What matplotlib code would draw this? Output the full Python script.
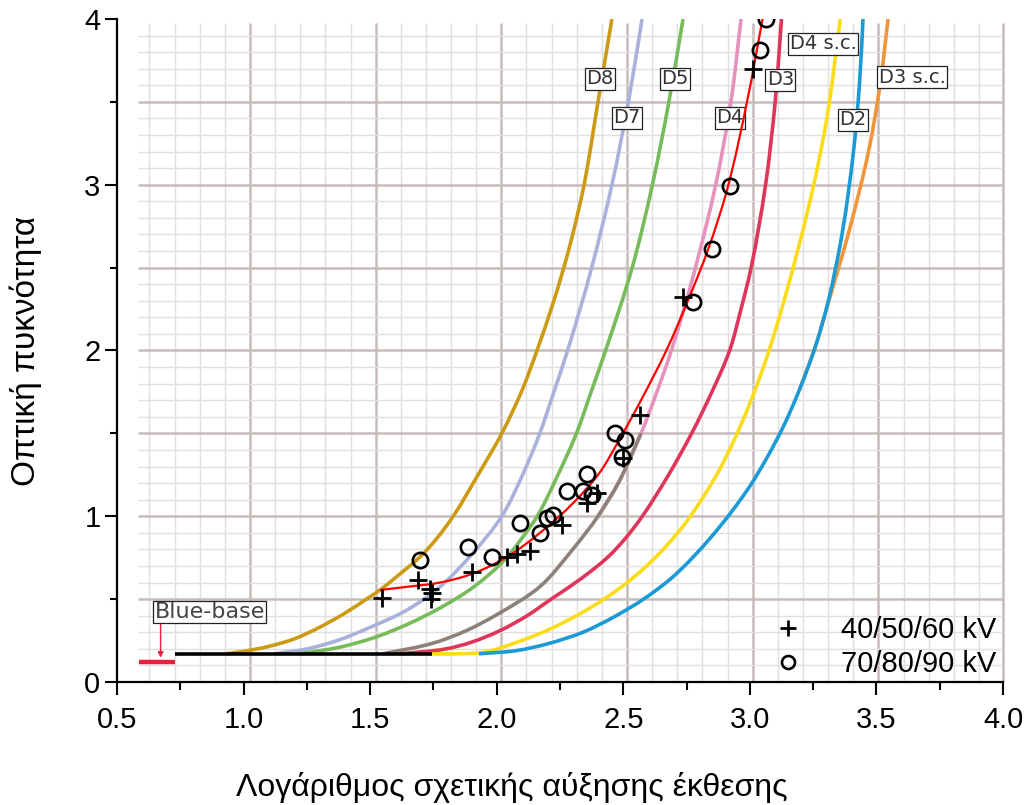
import matplotlib
matplotlib.use("Agg")
import matplotlib.pyplot as plt
from matplotlib.path import Path
from matplotlib.patches import PathPatch
import numpy as np

plt.rcParams['font.family'] = ['Liberation Sans', 'DejaVu Sans']

# characteristic curves (log relative exposure, optical density)
d8_x = [0.93, 1.0, 1.1, 1.2, 1.3, 1.4, 1.49, 1.539, 1.6, 1.697, 1.76, 1.828, 1.93, 2.02, 2.10, 2.159, 2.215, 2.265, 2.30, 2.345, 2.40, 2.455]
d8_y = [0.17, 0.185, 0.215, 0.26, 0.33, 0.415, 0.505, 0.555, 0.63, 0.755, 0.86, 1.0, 1.26, 1.5, 1.76, 2.0, 2.25, 2.5, 2.7, 3.0, 3.5, 4.0]

d7_x = [1.12, 1.25, 1.37, 1.50, 1.646, 1.776, 1.907, 2.02, 2.105, 2.17, 2.228, 2.28, 2.375, 2.455, 2.52, 2.574]
d7_y = [0.17, 0.20, 0.25, 0.33, 0.435, 0.575, 0.78, 1.0, 1.26, 1.5, 1.76, 2.0, 2.5, 3.0, 3.5, 4.0]

d5_x = [1.22, 1.38, 1.52, 1.65, 1.78, 1.91, 2.03, 2.115, 2.16, 2.245, 2.315, 2.375, 2.43, 2.535, 2.615, 2.68, 2.736]
d5_y = [0.17, 0.21, 0.27, 0.35, 0.45, 0.575, 0.735, 0.9, 1.0, 1.26, 1.5, 1.76, 2.0, 2.5, 3.0, 3.5, 4.0]

grey_x = [1.55, 1.75, 1.88, 2.01, 2.17, 2.30, 2.40, 2.48, 2.57]
grey_y = [0.17, 0.235, 0.31, 0.415, 0.575, 0.80, 1.0, 1.2, 1.5]

d4_x = [2.40, 2.48, 2.57, 2.635, 2.69, 2.785, 2.865, 2.925, 2.965]
d4_y = [1.0, 1.2, 1.5, 1.76, 2.0, 2.5, 3.0, 3.5, 4.0]

d3_x = [1.62, 1.80, 1.90, 2.013, 2.12, 2.215, 2.33, 2.44, 2.51, 2.575, 2.675, 2.77, 2.85, 2.92, 2.965, 3.005, 3.062, 3.10, 3.125]
d3_y = [0.17, 0.20, 0.24, 0.31, 0.40, 0.50, 0.62, 0.755, 0.87, 1.0, 1.24, 1.5, 1.75, 2.0, 2.25, 2.5, 3.0, 3.5, 4.0]

d4sc_x = [1.745, 1.85, 1.95, 2.08, 2.211, 2.35, 2.476, 2.606, 2.736, 2.865, 2.935, 3.005, 3.065, 3.135, 3.245, 3.305, 3.357]
d4sc_y = [0.17, 0.17, 0.18, 0.24, 0.32, 0.43, 0.555, 0.72, 0.94, 1.24, 1.45, 1.70, 1.95, 2.30, 2.95, 3.41, 4.0]

d2_x = [1.93, 2.08, 2.20, 2.34, 2.46, 2.58, 2.70, 2.85, 2.995, 3.07, 3.135, 3.195, 3.26, 3.31, 3.365, 3.41, 3.433, 3.447]
d2_y = [0.17, 0.19, 0.23, 0.30, 0.39, 0.50, 0.64, 0.88, 1.17, 1.36, 1.55, 1.76, 2.03, 2.30, 2.71, 3.21, 3.61, 4.0]

d3sc_x = [3.195, 3.26, 3.312, 3.39, 3.47, 3.515, 3.546]
d3sc_y = [1.76, 2.03, 2.30, 2.71, 3.21, 3.61, 4.0]

fog_x = [0.73, 1.745]
fog_y = [0.17, 0.17]
blue_base_x = [0.587, 0.73]
blue_base_y = [0.12, 0.12]

# fitted curve through the measurements
fit_x = [1.539, 1.65, 1.776, 1.907, 2.041, 2.171, 2.302, 2.405, 2.48, 2.57, 2.67, 2.755, 2.835, 2.91, 2.99, 3.05, 3.062]
fit_y = [0.555, 0.575, 0.60, 0.655, 0.755, 0.90, 1.08, 1.26, 1.45, 1.70, 2.0, 2.30, 2.61, 2.97, 3.51, 4.0, 4.1]

# measurements
low_kv_x = [1.547, 1.69, 1.735, 1.745, 1.74, 1.903, 2.04, 2.08, 2.13, 2.258, 2.355, 2.395, 2.50, 2.566, 2.736, 3.013]
low_kv_y = [0.505, 0.615, 0.56, 0.535, 0.50, 0.665, 0.755, 0.77, 0.79, 0.945, 1.08, 1.14, 1.35, 1.61, 2.32, 3.70]
high_kv_x = [1.697, 1.887, 1.982, 2.092, 2.171, 2.199, 2.223, 2.278, 2.341, 2.357, 2.377, 2.468, 2.507, 2.495, 2.776, 2.851, 2.922, 3.041, 3.065]
high_kv_y = [0.735, 0.815, 0.755, 0.96, 0.90, 0.99, 1.01, 1.15, 1.15, 1.255, 1.13, 1.50, 1.46, 1.36, 2.29, 2.61, 2.99, 3.81, 4.0]

curve_labels = ['D8', 'D7', 'D5', 'D4', 'D3', 'D4 s.c.', 'D3 s.c.', 'D2']
label_x = [2.408, 2.515, 2.705, 2.922, 3.120, 3.289, 3.641, 3.408]
label_y = [3.638, 3.403, 3.638, 3.403, 3.632, 3.85, 3.650, 3.391]


def smooth_curve(ax, xs, ys, **kw):
    # cubic Bezier through the points, tangents taken from the neighbours
    sx, sy = 253.0, 166.0
    p = np.column_stack([np.asarray(xs) * sx, np.asarray(ys) * sy])
    n = len(p)
    tang = np.zeros_like(p)
    for i in range(n):
        if i == 0:
            t = p[1] - p[0]
        elif i == n - 1:
            t = p[-1] - p[-2]
        else:
            d0 = p[i] - p[i - 1]
            d1 = p[i + 1] - p[i]
            t = d0 / np.hypot(*d0) + d1 / np.hypot(*d1)
        tang[i] = t / np.hypot(*t)
    verts = [p[0]]
    codes = [Path.MOVETO]
    for i in range(n - 1):
        seg = np.hypot(*(p[i + 1] - p[i])) / 3
        verts += [p[i] + tang[i] * seg, p[i + 1] - tang[i + 1] * seg, p[i + 1]]
        codes += [Path.CURVE4] * 3
    verts = np.array(verts) / [sx, sy]
    patch = PathPatch(Path(verts, codes), fill=False, capstyle='butt', **kw)
    ax.add_patch(patch)


fig = plt.figure(figsize=(10.24, 8.05), dpi=100)
ax = fig.add_axes([0.1143, 0.1528, 0.8652, 0.8236])
ax.set_xlim(0.5, 4.0)
ax.set_ylim(0, 4)

# graph-paper background
vx = np.arange(0.628, 4.01, 0.0993)
for i, v in enumerate(vx):
    major = (i % 5 == 4)
    ax.vlines(min(v, 4.0), 0, 3.975, color='#c6bcb9' if major else '#e2dfdf',
              lw=1.8 if major else 1.0, zorder=0.5, clip_on=False)
for i in range(1, 40):
    major = (i % 5 == 0)
    ax.hlines(i * 0.1, 0.583, 4.0, color='#c6bcb9' if major else '#e2dfdf',
              lw=1.8 if major else 1.0, zorder=0.5)

lw = 2.6
smooth_curve(ax, d3sc_x, d3sc_y, ec='#f0953a', lw=lw, zorder=2)
smooth_curve(ax, d8_x, d8_y, ec='#cc9a14', lw=lw, zorder=2)
smooth_curve(ax, d7_x, d7_y, ec='#a9b1dc', lw=lw, zorder=2)
smooth_curve(ax, d5_x, d5_y, ec='#77bb5a', lw=lw, zorder=2)
smooth_curve(ax, d4_x, d4_y, ec='#e592bf', lw=lw, zorder=2)
smooth_curve(ax, grey_x, grey_y, ec='#8e807a', lw=lw, zorder=2)
smooth_curve(ax, d3_x, d3_y, ec='#e0355b', lw=lw, zorder=2)
smooth_curve(ax, d4sc_x, d4sc_y, ec='#fbdc1a', lw=lw, zorder=2)
smooth_curve(ax, d2_x, d2_y, ec='#1c9ad6', lw=lw, zorder=2)
ax.plot(fog_x, fog_y, color='black', lw=2.6, zorder=2.5, solid_capstyle='butt')
ax.plot(blue_base_x, blue_base_y, color='#e8213a', lw=3.2, zorder=2.5, solid_capstyle='butt')

for t, x, y in zip(curve_labels, label_x, label_y):
    ax.text(x, y, t, ha='center', va='center', fontsize=14, color='#333333',
            family='DejaVu Sans', zorder=3,
            bbox=dict(boxstyle='square,pad=0.08', fc='white', ec='#222222', lw=0.9))

ax.annotate('', xy=(0.672, 0.13), xytext=(0.672, 0.37),
            arrowprops=dict(arrowstyle='-|>', color='#e8213a', lw=1.0, mutation_scale=8), zorder=3)
ax.text(0.867, 0.422, 'Blue-base', ha='center', va='center', fontsize=16, color='#444444',
        family='DejaVu Sans', zorder=3,
        bbox=dict(boxstyle='square,pad=0.06', fc='white', ec='#222222', lw=0.9))

smooth_curve(ax, fit_x, fit_y, ec='#ff0000', lw=1.6, zorder=4)

ax.plot(low_kv_x, low_kv_y, ls='none', marker='+', ms=13, mew=2.0, color='black',
        zorder=5, label='40/50/60 kV')
ax.plot(high_kv_x, high_kv_y, ls='none', marker='o', ms=11, mew=1.9, mfc='none', mec='black',
        zorder=5, label='70/80/90 kV')

ax.legend(loc='lower right', bbox_to_anchor=(1.005, -0.012), frameon=False, fontsize=21,
          markerscale=0.85, handlelength=1.0, handletextpad=1.3, labelspacing=0.2,
          borderaxespad=0.0)

for s in ['top', 'right']:
    ax.spines[s].set_visible(False)
for s in ['left', 'bottom']:
    ax.spines[s].set_linewidth(1.6)

ax.set_xticks(np.arange(0.5, 4.01, 0.5))
ax.set_xticks(np.arange(0.75, 4.0, 0.5), minor=True)
ax.set_xticklabels([f'{v:.1f}' for v in np.arange(0.5, 4.01, 0.5)])
ax.set_yticks([0, 1, 2, 3, 4])
ax.set_yticks([0.5, 1.5, 2.5, 3.5], minor=True)
ax.tick_params(axis='x', which='major', length=9, width=1.5, pad=8, labelsize=21)
ax.tick_params(axis='x', which='minor', length=6, width=1.5)
ax.tick_params(axis='y', which='major', length=9, width=1.5, pad=3, labelsize=21)
ax.tick_params(axis='y', which='minor', length=5, width=1.5)

ax.set_xlabel('Λογάριθμος σχετικής αύξησης έκθεσης', fontsize=23, labelpad=24)
ax.xaxis.set_label_coords(0.446, -0.135)
ax.set_ylabel('Οπτική πυκνότητα', fontsize=24, labelpad=30)

fig.savefig('out.png', dpi=100)
